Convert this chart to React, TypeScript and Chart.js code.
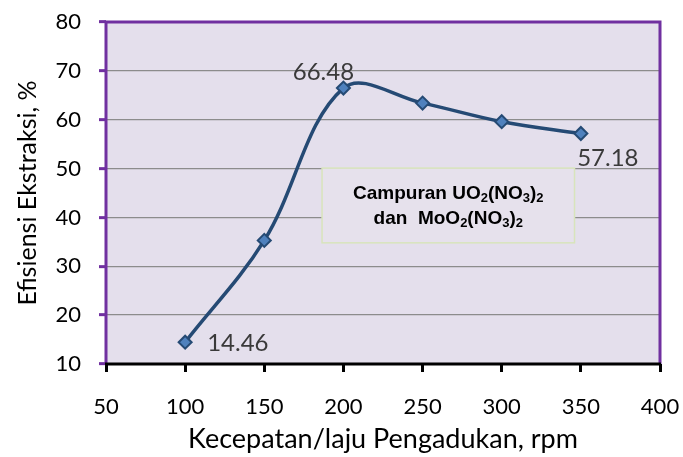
import React, { useEffect, useRef } from "react";
import { Chart, registerables } from "chart.js";
Chart.register(...registerables);

const speeds = [100, 150, 200, 250, 300, 350];
const efficiency = [14.46, 35.3, 66.48, 63.4, 59.6, 57.18];
const labelledPoints = [
  { index: 0, text: "14.46" },
  { index: 2, text: "66.48" },
  { index: 5, text: "57.18" },
];
const xTitle = "Kecepatan/laju Pengadukan, rpm";
const yTitle = "Efisiensi Ekstraksi, %";
const boxLines = [
  [["Campuran UO", "n"], ["2", "s"], ["(NO", "n"], ["3", "s"], [")", "n"], ["2", "s"]],
  [["dan  MoO", "n"], ["2", "s"], ["(NO", "n"], ["3", "s"], [")", "n"], ["2", "s"]],
];

const LEFT = 106, RIGHT = 660, TOP = 22, BOTTOM = 364;
const FONT = "Lato, 'Open Sans', sans-serif";

const decor = {
  id: "decor",
  afterDatasetsDraw(chart: any) {
    const ctx = chart.ctx;
    const a = chart.chartArea;
    const xs = chart.scales.x, ys = chart.scales.y;
    ctx.save();
    // frame
    ctx.strokeStyle = "#7030A0";
    ctx.lineWidth = 3;
    ctx.beginPath();
    ctx.moveTo(a.left, a.bottom);
    ctx.lineTo(a.left, a.top);
    ctx.lineTo(a.right, a.top);
    ctx.lineTo(a.right, a.bottom);
    ctx.stroke();
    ctx.strokeStyle = "#000";
    ctx.lineWidth = 3;
    ctx.beginPath();
    ctx.moveTo(a.left - 1, a.bottom);
    ctx.lineTo(a.right + 1, a.bottom);
    ctx.stroke();
    // data labels
    const meta = chart.getDatasetMeta(0);
    ctx.font = "24px " + FONT;
    ctx.fillStyle = "#3a3a3a";
    ctx.textBaseline = "middle";
    for (const lp of labelledPoints) {
      const pt = meta.data[lp.index];
      if (lp.index === 0) {
        ctx.textAlign = "left";
        ctx.fillText(lp.text, pt.x + 22, pt.y + 1);
      } else if (lp.index === 2) {
        ctx.textAlign = "center";
        ctx.fillText(lp.text, pt.x - 20, pt.y - 16);
      } else {
        ctx.textAlign = "center";
        ctx.fillText(lp.text, pt.x + 27, pt.y + 25);
      }
    }
    // annotation box
    const bx1 = xs.getPixelForValue(186.5), bx2 = xs.getPixelForValue(346);
    const by1 = ys.getPixelForValue(50.1), by2 = ys.getPixelForValue(34.8);
    ctx.fillStyle = "#E6E1EC";
    ctx.fillRect(bx1, by1, bx2 - bx1, by2 - by1);
    ctx.strokeStyle = "#D8E4BC";
    ctx.lineWidth = 1.5;
    ctx.strokeRect(bx1, by1, bx2 - bx1, by2 - by1);
    const cx = (bx1 + bx2) / 2;
    const big = "bold 19px 'Liberation Sans', Arial, sans-serif";
    const small = "bold 13px 'Liberation Sans', Arial, sans-serif";
    ctx.fillStyle = "#000";
    ctx.textAlign = "left";
    ctx.textBaseline = "alphabetic";
    boxLines.forEach((line, li) => {
      let w = 0;
      for (const [t, k] of line) {
        ctx.font = k === "n" ? big : small;
        w += ctx.measureText(t).width;
      }
      let x = cx - w / 2;
      const base = by1 + 31 + li * 25;
      for (const [t, k] of line) {
        ctx.font = k === "n" ? big : small;
        ctx.fillText(t, x, k === "n" ? base : base + 3);
        x += ctx.measureText(t).width;
      }
    });
    ctx.restore();
  },
  beforeDraw(chart: any) {
    const a = chart.chartArea;
    const ctx = chart.ctx;
    ctx.save();
    ctx.fillStyle = "#fff";
    ctx.fillRect(0, 0, chart.width, chart.height);
    ctx.fillStyle = "#E4DFEC";
    ctx.fillRect(a.left, a.top, a.right - a.left, a.bottom - a.top);
    ctx.restore();
  },
};

export default function App() {
  const ref = useRef<HTMLCanvasElement>(null);
  useEffect(() => {
    const tickFont = { family: FONT, size: 22 };
    const chart = new Chart(ref.current!, {
      type: "line",
      data: {
        datasets: [
          {
            data: speeds.map((s, i) => ({ x: s, y: efficiency[i] })),
            borderColor: "#254A74",
            borderWidth: 3.5,
            tension: 0.36,
            pointStyle: "rectRot",
            pointRadius: 6.5,
            pointBackgroundColor: "#4F81BD",
            pointBorderColor: "#254A74",
            pointBorderWidth: 2,
          },
        ],
      },
      options: {
        animation: false,
        responsive: false,
        layout: { padding: { left: 0, top: TOP, right: 683 - RIGHT, bottom: 0 } },
        plugins: { legend: { display: false }, tooltip: { enabled: false } },
        scales: {
          x: {
            type: "linear",
            min: 50,
            max: 400,
            afterFit: (s: any) => { s.height = 457 - BOTTOM; s.paddingRight = 0; s.paddingLeft = 0; },
            ticks: { stepSize: 50, color: "#000", font: tickFont, padding: 22, maxRotation: 0 },
            grid: { drawOnChartArea: false, color: "#000", tickLength: 8, lineWidth: 3 },
            border: { display: false },
            title: {
              display: true,
              text: xTitle,
              color: "#000",
              font: { family: FONT, size: 27 },
              padding: { top: 2, bottom: 2 },
            },
          },
          y: {
            min: 10,
            max: 80,
            afterFit: (s: any) => { s.width = LEFT; s.paddingTop = 0; s.paddingBottom = 0; },
            ticks: { stepSize: 10, color: "#000", font: tickFont, padding: 18 },
            grid: { color: "#8C8C8C", lineWidth: 1.3, tickColor: "#7030A0", tickWidth: 3, tickLength: 7 },
            border: { display: false },
            title: {
              display: true,
              text: yTitle,
              color: "#000",
              font: { family: FONT, size: 25 },
              padding: { top: 13, bottom: 13 },
            },
          },
        },
      },
      plugins: [decor],
    });
    return () => chart.destroy();
  }, []);
  return (
    <div style={{ position: "fixed", left: 0, top: 0, width: 683, height: 457 }}>
      <canvas ref={ref} width={683} height={457} style={{ width: 683, height: 457 }} />
    </div>
  );
}
